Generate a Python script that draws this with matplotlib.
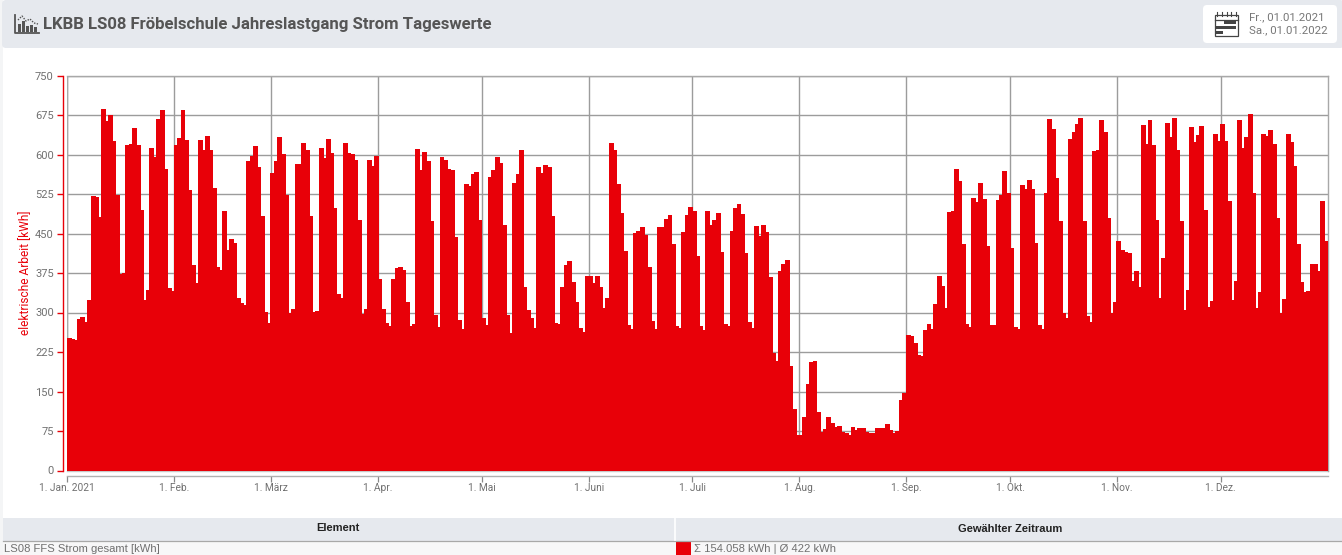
import numpy as np
import matplotlib
matplotlib.use("Agg")
import matplotlib.pyplot as plt
from matplotlib.patches import Rectangle, FancyBboxPatch

# Daily energy values [kWh], 1 Jan 2021 .. 31 Dec 2021
jan = [252,250,248,288,292,282,324,521,519,482,686,664,675,626,523,374,375,618,620,650,618,495,324,343,612,595,667,684,573,347,341]
feb = [618,631,684,628,533,391,356,628,609,635,609,537,387,381,493,419,440,432,328,318,315,588,597,616,576,483,301,281]
mar = [565,588,633,601,523,300,307,582,582,622,609,483,301,303,612,593,629,603,499,336,328,622,603,601,590,476,298,307,590,578,597]
apr = [364,307,281,275,364,385,387,381,320,275,279,611,571,605,588,474,296,273,595,590,573,571,444,286,269,544,540,563,567,476]
may = [290,277,557,571,595,584,466,296,262,546,563,609,349,305,290,271,576,565,580,576,483,281,279,349,391,398,358,320,271,263,370]
jun = [370,356,370,349,309,328,622,609,544,489,417,277,269,451,455,463,447,387,284,269,463,463,478,485,430,275,271,453,485,500]
jul = [493,408,275,267,493,466,476,489,415,278,275,455,499,506,487,413,282,271,465,446,466,453,368,223,208,379,392,400,199,117,68]
aug = [68,102,165,206,208,111,73,79,102,90,83,85,73,71,68,83,77,81,81,73,71,71,81,81,81,89,77,71,75,134,147]
sep = [258,256,243,220,218,267,279,269,317,370,351,309,491,493,573,550,430,279,273,518,510,546,516,427,277,277,514,523,569,527]
oct_ = [423,273,269,542,535,552,535,432,277,269,527,667,648,556,474,300,290,629,643,658,669,474,294,282,607,609,665,643,480,300,320]
nov = [436,419,415,413,360,379,349,656,620,665,618,476,328,404,660,633,669,609,474,305,343,652,624,637,654,495,311,322,639,626]
dec = [658,626,512,324,360,665,612,633,677,527,309,339,639,635,647,620,480,300,326,639,624,578,430,358,339,341,392,392,379,512,436]
values = jan + feb + mar + apr + may + jun + jul + aug + sep + oct_ + nov + dec

month_lengths = [len(m) for m in (jan, feb, mar, apr, may, jun, jul, aug, sep, oct_, nov, dec)]
month_labels = ["1. Jan. 2021", "1. Feb.", "1. März", "1. Apr.", "1. Mai", "1. Juni",
                "1. Juli", "1. Aug.", "1. Sep.", "1. Okt.", "1. Nov.", "1. Dez."]
y_ticks = [0, 75, 150, 225, 300, 375, 450, 525, 600, 675, 750]

title = "LKBB LS08 Fröbelschule Jahreslastgang Strom Tageswerte"
y_label = "elektrische Arbeit [kWh]"
date_from = "Fr., 01.01.2021"
date_to = "Sa., 01.01.2022"
table_heads = ["Element", "Gewählter Zeitraum"]
row_name = "LS08 FFS Strom gesamt [kWh]"
row_value = "Σ 154.058 kWh | Ø 422 kWh"

RED = "#E80008"
W, H = 1342, 555
plt.rcParams["font.family"] = ["Roboto", "DejaVu Sans"]
fig = plt.figure(figsize=(W / 100, H / 100), dpi=100, facecolor="white")

# Page decoration in pixel coordinates
deco = fig.add_axes([0, 0, 1, 1], zorder=0)
deco.set_xlim(0, W); deco.set_ylim(H, 0); deco.axis("off")
HEAD = "#E6E9EE"
deco.add_patch(Rectangle((0, 0), 3, H, fc="#F4F5F6", ec="none"))
deco.add_patch(FancyBboxPatch((2, 0), W, 48, boxstyle="round,pad=0,rounding_size=4", fc=HEAD, ec="none"))
deco.add_patch(Rectangle((3, 518), W, 22.5, fc=HEAD, ec="none"))
deco.add_patch(Rectangle((3, 540.5), W, 15, fc="#F7F7F8", ec="none"))
deco.plot([3, W], [540.5, 540.5], color="#A8A8A8", lw=0.9)
deco.plot([674.5, 674.5], [518, 540], color="white", lw=1.2)
deco.add_patch(Rectangle((676, 541), 15, 14, fc=RED, ec="none"))
deco.text(43, 24.5, title, fontsize=12.1, fontweight="bold", color="#555555", va="center", ha="left")
deco.text(338, 528, table_heads[0], fontsize=8, fontweight="bold", color="#222222", va="center", ha="center", family="Liberation Sans")
deco.text(1010, 528.5, table_heads[1], fontsize=8, fontweight="bold", color="#222222", va="center", ha="center", family="Liberation Sans")
deco.text(4, 549.5, row_name, fontsize=8.1, color="#707070", va="center", ha="left", family="Liberation Sans")
deco.text(694, 549.5, row_value, fontsize=8.1, color="#707070", va="center", ha="left", family="Liberation Sans")

# Title icon
ICON = "#555555"
deco.plot([14.5, 14.5, 38.5], [15, 33, 33], color=ICON, lw=1.3)
for bx, by in zip([18, 22, 26, 30, 34], [24, 21, 26, 25, 27]):
    deco.add_patch(Rectangle((bx, by), 2.6, 31.5 - by, fc=ICON, ec="none"))
deco.plot([18, 22, 26, 30, 34, 38], [20, 16, 21, 19, 23, 24], color=ICON, lw=1.0, ls=(0, (1, 1)))

# Date box with calendar icon
deco.add_patch(FancyBboxPatch((1203, 5), 134, 38, boxstyle="round,pad=0,rounding_size=4", fc="white", ec="none"))
deco.add_patch(Rectangle((1214.5, 14.5), 23.5, 21, fc="none", ec="#444444", lw=0.9))
deco.plot([1214.5, 1238], [19.5, 19.5], color="#444444", lw=0.9)
for tx in np.linspace(1217, 1236, 5):
    deco.plot([tx, tx], [12, 16], color="#444444", lw=0.8)
deco.add_patch(Rectangle((1224, 21), 12, 3, fc="#444444", ec="none"))
deco.add_patch(Rectangle((1216, 26), 20, 3, fc="#444444", ec="none"))
deco.add_patch(Rectangle((1216, 31), 7, 3, fc="#444444", ec="none"))
deco.text(1249, 17, date_from, fontsize=8.2, color="#777777", va="center", ha="left")
deco.text(1249, 30, date_to, fontsize=8.2, color="#777777", va="center", ha="left")

# Main plot
x0, x1, ytop, ybot = 67.3, 1327.8, 75.5, 470.5
ax = fig.add_axes([x0 / W, 1 - ybot / H, (x1 - x0) / W, (ybot - ytop) / H], zorder=1)
ax.patch.set_alpha(0)
days = np.arange(len(values))
ax.bar(days - 0.2, values, width=1.42, align="edge", color=RED, linewidth=0, antialiased=False, zorder=3)
ax.set_xlim(0, len(values))
ax.set_ylim(0, y_ticks[-1])

tick_days = np.cumsum([0] + month_lengths[:-1])
ax.set_xticks(tick_days)
ax.set_xticklabels(month_labels)
ax.set_yticks(y_ticks)
ax.grid(True, color="#9C9C9C", lw=1.0, zorder=1)
ax.set_axisbelow(True)

for s in ("top", "right"):
    ax.spines[s].set_color("#A8A8A8"); ax.spines[s].set_linewidth(1.0)
ax.spines["left"].set_color(RED); ax.spines["left"].set_linewidth(1.0)
ax.spines["left"].set_position(("outward", 3.0))
ax.spines["bottom"].set_color("#B0B0B0"); ax.spines["bottom"].set_linewidth(1.0)
ax.spines["bottom"].set_position(("outward", 3.6))
ax.tick_params(axis="y", length=4.2, width=1.0, color=RED, labelcolor="#707070", labelsize=8, pad=2.5)
ax.tick_params(axis="x", length=4.2, width=0.9, color="#888888", labelcolor="#707070", labelsize=7.3, pad=1.2)
ax.plot([0, 0], [0, 750], color="#A8A8A8", lw=1.0, zorder=2)
deco.plot([67, 1328], [471, 471], color="#C8C8C8", lw=1.0)
deco.text(26, 273, y_label, rotation=90, fontsize=8.6, color=RED, va="center", ha="center")

fig.savefig("out.png", dpi=100, facecolor="white")
